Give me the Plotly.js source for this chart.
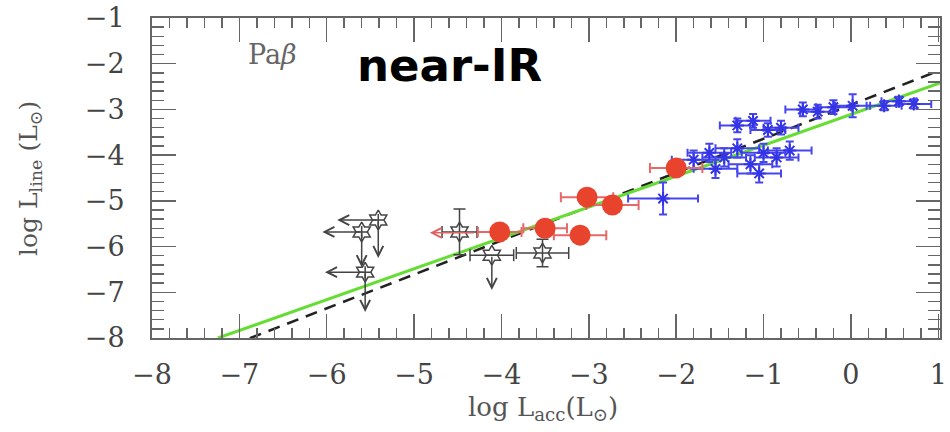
<!DOCTYPE html>
<html>
<head>
<meta charset="utf-8">
<script src="https://cdn.plot.ly/plotly-3.0.1.min.js"></script>
<style>html,body{margin:0;padding:0;background:#fff;}#chart{width:950px;height:432px;}</style>
</head>
<body>
<div id="chart"></div>
<script>
// ---- Data ----
// Red filled circles
const redX    = [-4.02, -3.50, -3.10, -3.02, -2.73, -2.00];
const redY    = [-5.68, -5.60, -5.75, -4.92, -5.09, -4.28];
const redXerr = [0.25, 0.25, 0.30, 0.30, 0.30, 0.30];
const redYerr = [0.15, 0.15, 0.15, 0.15, 0.15, 0.15];

// Black open stars
const blkX    = [-5.41, -5.60, -5.56, -4.48, -4.11, -3.53];
const blkY    = [-5.42, -5.68, -6.56, -5.68, -6.19, -6.14];
const blkXerr = [0, 0, 0, 0.20, 0.25, 0.30];
const blkYerr = [0, 0, 0, 0.50, 0, 0.30];

// Upper limits (arrows): start point and end point
const limX0 = [-5.41, -5.41, -5.60, -5.60, -5.56, -5.56, -4.11, -4.30];
const limY0 = [-5.42, -5.42, -5.68, -5.68, -6.56, -6.56, -6.19, -5.70];
const limX1 = [-5.88, -5.41, -6.05, -5.60, -6.02, -5.56, -4.11, -4.82];
const limY1 = [-5.42, -6.25, -5.68, -6.45, -6.56, -7.43, -6.95, -5.70];
const limColor = ['#444','#444','#444','#444','#444','#444','#444','#e06060'];

// Blue points
const bluX    = [-2.15, -1.80, -1.62, -1.45, -1.30, -1.15, -1.00, -0.85, -0.70, -1.05, -1.55,
                 -1.30, -1.12, -0.95, -0.80, -0.55, -0.38, -0.20, 0.02, 0.38, 0.55, 0.72];
const bluY    = [-4.95, -4.10, -3.95, -4.05, -3.85, -4.20, -3.95, -4.05, -3.90, -4.40, -4.30,
                 -3.35, -3.25, -3.45, -3.40, -3.00, -3.05, -2.95, -2.92, -2.92, -2.82, -2.88];
const bluXerr = [0.40, 0.25, 0.25, 0.25, 0.25, 0.25, 0.25, 0.25, 0.25, 0.25, 0.25,
                 0.20, 0.20, 0.20, 0.20, 0.20, 0.20, 0.20, 0.20, 0.20, 0.20, 0.20];
const bluYerr = [0.35, 0.20, 0.20, 0.20, 0.20, 0.20, 0.20, 0.20, 0.20, 0.20, 0.20,
                 0.15, 0.15, 0.15, 0.15, 0.15, 0.15, 0.15, 0.25, 0.10, 0.10, 0.10];

// Fit lines: [slope, intercept] and x extent
const greenFit = {slope: 0.675, intercept: -3.11, xs: [-7.245, 1.02]};
const dashFit  = {slope: 0.742, intercept: -2.90, xs: [-6.88, 0.98]};

const xTickVals = [-8, -7, -6, -5, -4, -3, -2, -1, 0, 1];
const yTickVals = [-8, -7, -6, -5, -4, -3, -2, -1];

const lineY = f => f.xs.map(x => f.slope * x + f.intercept);

const traces = [
  {x: dashFit.xs, y: lineY(dashFit), mode: 'lines', line: {color: '#222', width: 2.5, dash: '12px,8px'}, hoverinfo: 'skip'},
  {x: greenFit.xs, y: lineY(greenFit), mode: 'lines', line: {color: '#66dd33', width: 3}, hoverinfo: 'skip'},
  {x: bluX, y: bluY, mode: 'markers', type: 'scatter',
   marker: {symbol: 'asterisk-open', size: 11, color: '#3434e6', line: {color: '#3434e6', width: 2}},
   error_x: {type: 'data', array: bluXerr, color: '#4646f0', thickness: 2, width: 4},
   error_y: {type: 'data', array: bluYerr, color: '#4646f0', thickness: 2, width: 4}},
  {x: blkX, y: blkY, mode: 'markers', type: 'scatter',
   marker: {symbol: 'hexagram-open', size: 15, color: '#444', line: {color: '#444', width: 1.5}},
   error_x: {type: 'data', array: blkXerr, color: '#444', thickness: 1.5, width: 6},
   error_y: {type: 'data', array: blkYerr, color: '#444', thickness: 1.5, width: 6}},
  {x: redX, y: redY, mode: 'markers', type: 'scatter',
   marker: {symbol: 'circle', size: 21, color: '#e8432d'},
   error_x: {type: 'data', array: redXerr, color: '#e86868', thickness: 2, width: 5},
   error_y: {type: 'data', array: redYerr, color: '#e86868', thickness: 2, width: 5}}
];

// plot area in pixels: x 152..940, y 18..338
const px = v => (v - 152) / 788;
const py = v => 1 - (v - 18) / 320;

const annotations = limX0.map((x0, i) => ({
  x: limX1[i], y: limY1[i], ax: x0, ay: limY0[i], axref: 'x', ayref: 'y', xref: 'x', yref: 'y',
  showarrow: true, arrowhead: 5, arrowsize: 1.3, arrowwidth: 1.5, arrowcolor: limColor[i], text: ''
}));
annotations.push({x: px(272), y: py(55), xref: 'paper', yref: 'paper', xanchor: 'center', yanchor: 'middle',
  text: 'Pa<i>\u03B2</i>', showarrow: false,
  font: {family: 'DejaVu Serif', size: 27, color: '#666'}});
annotations.push({x: px(449), y: py(65), xref: 'paper', yref: 'paper', xanchor: 'center', yanchor: 'middle',
  text: '<b>near-IR</b>', showarrow: false,
  font: {family: 'DejaVu Sans', size: 45, color: '#000'}});
// axis titles
annotations.push({x: px(543), y: py(408), xref: 'paper', yref: 'paper', xanchor: 'center', yanchor: 'middle',
  text: 'log L<sub>acc</sub>(L<sub>\u2299</sub>)', showarrow: false,
  font: {family: 'DejaVu Serif', size: 26, color: '#555'}});
annotations.push({x: px(30), y: py(179), xref: 'paper', yref: 'paper', xanchor: 'center', yanchor: 'middle',
  text: 'log L<sub>line</sub> (L<sub>\u2299</sub>)', showarrow: false, textangle: -90,
  font: {family: 'DejaVu Serif', size: 25, color: '#555'}});

const axisCommon = {
  showline: true, linecolor: '#666', linewidth: 2, mirror: 'allticks',
  ticks: 'inside', ticklen: 24, tickwidth: 1.5, tickcolor: '#666',
  showgrid: false, zeroline: false,
  tickfont: {family: 'DejaVu Serif', size: 27, color: '#444'}
};

const layout = {
  width: 950, height: 432,
  margin: {l: 152, r: 10, t: 18, b: 94},
  paper_bgcolor: '#fff', plot_bgcolor: '#fff',
  showlegend: false,
  xaxis: Object.assign({}, axisCommon, {
    range: [-8, 1.02], tickvals: xTickVals, ticklabelstandoff: 12,
    minor: {dtick: 0.2, ticks: 'inside', ticklen: 10, tickwidth: 1.5, tickcolor: '#666'}
  }),
  yaxis: Object.assign({}, axisCommon, {
    range: [-8, -1], tickvals: yTickVals, ticklabelstandoff: 20,
    minor: {dtick: 0.2, ticks: 'inside', ticklen: 12, tickwidth: 1.5, tickcolor: '#666'}
  }),
  annotations: annotations
};

Plotly.newPlot('chart', traces, layout, {staticPlot: true, displayModeBar: false});
</script>
</body>
</html>
